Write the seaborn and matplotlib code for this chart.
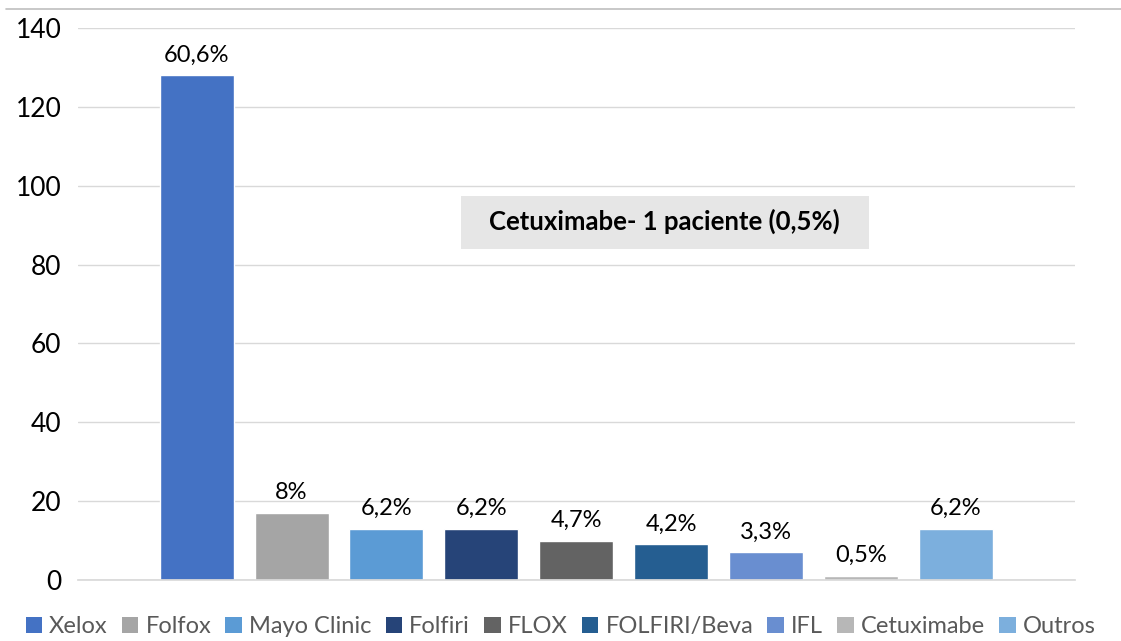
import matplotlib
matplotlib.use("Agg")
import matplotlib.pyplot as plt
import seaborn as sns
import pandas as pd
from matplotlib.patches import Patch, Rectangle
from matplotlib.lines import Line2D

categories = ["Xelox", "Folfox", "Mayo Clinic", "Folfiri", "FLOX",
              "FOLFIRI/Beva", "IFL", "Cetuximabe", "Outros"]
patients = [128, 17, 13, 13, 10, 9, 7, 1, 13]
pct_labels = ["60,6%", "8%", "6,2%", "6,2%", "4,7%", "4,2%", "3,3%", "0,5%", "6,2%"]
colors = ["#4472C4", "#A5A5A5", "#5B9BD5", "#264478", "#636363",
          "#255E91", "#698ED0", "#B7B7B7", "#7CAFDD"]
yticks = [0, 20, 40, 60, 80, 100, 120, 140]
note_text = "Cetuximabe- 1 paciente (0,5%)"

sns.set_theme(style="white")
plt.rcParams["font.family"] = ["Lato", "DejaVu Sans"]

df = pd.DataFrame({"esquema": categories, "n": patients})

fig = plt.figure(figsize=(11.21, 6.41), dpi=100)
ax = fig.add_axes([0.0696, 0.0952, 0.889, 0.8611])

sns.barplot(data=df, x="esquema", y="n", hue="esquema", palette=colors,
            order=categories, hue_order=categories, dodge=False,
            width=0.78, legend=False, saturation=1, ax=ax)

ax.set_xlim(-1.25, len(categories) - 1 + 1.25)
ax.set_ylim(0, 140)
ax.set_yticks(yticks)
ax.yaxis.grid(True, color="#D9D9D9", linewidth=1)
ax.set_axisbelow(True)
ax.set_xticks([])
ax.set_xlabel("")
ax.set_ylabel("")
ax.tick_params(axis="y", labelsize=19, colors="black", length=0, pad=12)
for s in ["left", "right", "top"]:
    ax.spines[s].set_visible(False)
ax.spines["bottom"].set_color("#D9D9D9")

# percentage labels on top of each bar
bars = sorted([p for p in ax.patches if p.get_height() > 0], key=lambda p: p.get_x())
for bar, lab in zip(bars, pct_labels):
    ax.annotate(lab, (bar.get_x() + bar.get_width() / 2, bar.get_height()),
                xytext=(0, 7), textcoords="offset points",
                ha="center", va="bottom", fontsize=17, color="black")

# note box
fig.add_artist(Rectangle((0.4112, 0.6115), 0.364, 0.0827,
                         transform=fig.transFigure, fc="#E6E6E6", ec="none"))
fig.text(0.593, 0.654, note_text, ha="center", va="center", fontsize=18.5,
         fontweight="bold", color="black")

# top border line of the chart area
fig.add_artist(Line2D([0.005, 1.0], [0.986, 0.986], color="#BFBFBF", lw=1.2))

handles = [Patch(facecolor=c, edgecolor="none") for c in colors]
fig.legend(handles, categories, loc="center", bbox_to_anchor=(0.5, 0.022),
           ncol=len(categories), frameon=False, fontsize=17,
           handlelength=0.7, handleheight=0.7, handletextpad=0.3,
           columnspacing=0.6, labelcolor="#595959", borderaxespad=0,
           borderpad=0)

fig.savefig("out.png", dpi=100)
